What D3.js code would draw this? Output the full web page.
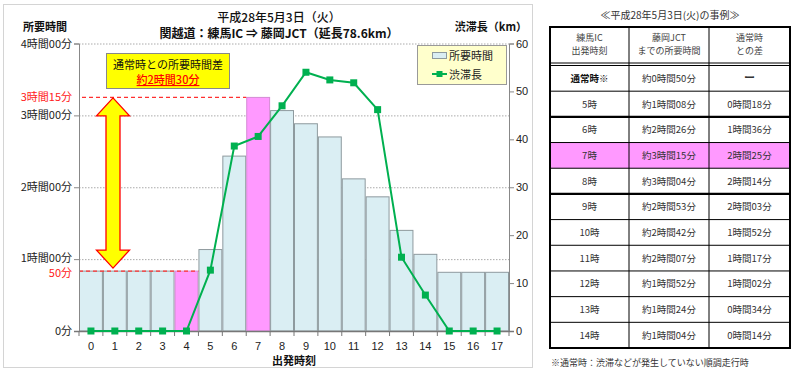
<!DOCTYPE html>
<html><head><meta charset="utf-8">
<script src="https://cdn.jsdelivr.net/npm/d3@7"></script>
<style>
html,body{margin:0;padding:0;background:#fff;}
svg{display:block;font-family:"Noto Sans CJK JP","Noto Sans",sans-serif;}
</style></head>
<body>
<svg id="c" width="799" height="374"></svg>
<script>
// ---- data ----
const hours = [0,1,2,3,4,5,6,7,8,9,10,11,12,13,14,15,16,17];
const durationMin = [50,50,50,50,50,68,146,195,184,173,162,127,112,84,64,49,49,49];
const congestionKm = [0,0,0,0,0,12.7,38.6,40.6,47.0,54.0,52.4,51.8,46.2,15.4,7.5,0,0,0];
const highlightHours = [4,7];
const leftTicks = [0,60,120,180,240];
const leftTickLabels = ["0分","1時間00分","2時間00分","3時間00分","4時間00分"];
const redMarks = [195,50];
const redMarkLabels = ["3時間15分","50分"];
const rightTicks = [0,10,20,30,40,50,60];

const tableTimes = ["通常時※","5時","6時","7時","8時","9時","10時","11時","12時","13時","14時"];
const tableDurations = ["約0時間50分","約1時間08分","約2時間26分","約3時間15分","約3時間04分","約2時間53分","約2時間42分","約2時間07分","約1時間52分","約1時間24分","約1時間04分"];
const tableDiffs = ["ー","0時間18分","1時間36分","2時間25分","2時間14分","2時間03分","1時間52分","1時間17分","1時間02分","0時間34分","0時間14分"];
const tableHeaders = [["練馬IC","出発時刻"],["藤岡JCT","までの所要時間"],["通常時","との差"]];
const tableHighlight = "7時";

(function(){
const svg = d3.select("#c");
const L = 79, R = 509, T = 43.5, B = 331;

svg.append("rect").attr("x",3.5).attr("y",4.5).attr("width",529).attr("height",363)
  .attr("fill","#fff").attr("stroke","#d4d4d4");

const x = d3.scaleBand().domain(hours).range([L,R]).padding(0);
const y = d3.scaleLinear().domain([0,240]).range([B,T]);
const y2 = d3.scaleLinear().domain([0,60]).range([B,T]);

// gridlines
svg.append("g").selectAll("line").data(leftTicks.filter(d=>d>0)).join("line")
  .attr("x1",L).attr("x2",R).attr("y1",d=>y(d)+0.5).attr("y2",d=>y(d)+0.5)
  .attr("stroke","#aaa").attr("stroke-dasharray","1.5,1.5");

// bars
svg.append("g").selectAll("rect").data(hours).join("rect")
  .attr("x",d=>x(d)+0.5).attr("y",(d,i)=>y(durationMin[i]))
  .attr("width",x.bandwidth()-1).attr("height",(d,i)=>B-y(durationMin[i]))
  .attr("fill",d=>highlightHours.includes(d)?"#FF99FF":"#DAEEF3")
  .attr("stroke",d=>highlightHours.includes(d)?"#D58BD5":"#8E9A9E").attr("stroke-width",1);

// red dashed lines
svg.append("line").attr("x1",82).attr("x2",x(7)).attr("y1",y(195)).attr("y2",y(195))
  .attr("stroke","#FF3030").attr("stroke-width",1.3).attr("stroke-dasharray","4,3");
svg.append("line").attr("x1",L).attr("x2",x(4)+x.bandwidth()).attr("y1",y(50)).attr("y2",y(50))
  .attr("stroke","#FF3030").attr("stroke-width",1.3).attr("stroke-dasharray","4,3");

// axes
const axL = d3.axisLeft(y).tickValues(leftTicks).tickSize(5).tickFormat("");
const gL = svg.append("g").attr("transform",`translate(${L},0)`).call(axL);
gL.select(".domain").attr("stroke","#888");
gL.selectAll(".tick line").attr("stroke","#888");
const axR = d3.axisRight(y2).tickValues(rightTicks).tickSize(5).tickFormat("");
const gR = svg.append("g").attr("transform",`translate(${R},0)`).call(axR);
gR.select(".domain").attr("stroke","#888");
gR.selectAll(".tick line").attr("stroke","#888");
// bottom axis
svg.append("line").attr("x1",L-5).attr("x2",R+5).attr("y1",B+0.5).attr("y2",B+0.5).attr("stroke","#777").attr("stroke-width",1.5);
svg.append("g").selectAll("line").data(hours.concat([18])).join("line")
  .attr("x1",d=>L+d*x.bandwidth()).attr("x2",d=>L+d*x.bandwidth())
  .attr("y1",B).attr("y2",B+5).attr("stroke","#777");

// tick labels
svg.append("g").selectAll("text").data(leftTicks).join("text")
  .attr("x",72).attr("y",d=>y(d)+(d===60?3:4)).attr("text-anchor","end")
  .attr("font-size",11).attr("fill","#222").text((d,i)=>leftTickLabels[i]);
svg.append("g").selectAll("text").data(redMarks).join("text")
  .attr("x",72).attr("y",d=>y(d)+(d===50?5.5:4)).attr("text-anchor","end")
  .attr("font-size",11).attr("fill","#FF2020").text((d,i)=>redMarkLabels[i]);
svg.append("g").selectAll("text").data(rightTicks).join("text")
  .attr("x",516).attr("y",d=>y2(d)+4).attr("text-anchor","start")
  .attr("font-family","Liberation Sans, Arial, sans-serif")
  .attr("font-size",11).attr("fill","#222").text(d=>d);
svg.append("g").selectAll("text").data(hours).join("text")
  .attr("x",d=>x(d)+x.bandwidth()/2).attr("y",349.5).attr("text-anchor","middle")
  .attr("font-family","Liberation Sans, Arial, sans-serif")
  .attr("font-size",11).attr("fill","#222").text(d=>d);

// titles
svg.append("text").attr("x",279).attr("y",22).attr("text-anchor","middle").attr("font-size",12).attr("fill","#111").attr("font-weight",500).text("平成28年5月3日（火）");
svg.append("text").attr("x",279).attr("y",38).attr("text-anchor","middle").attr("font-size",12).attr("font-weight","bold").attr("fill","#111").text("関越道：練馬IC ⇒ 藤岡JCT（延長78.6km）");
svg.append("text").attr("x",45).attr("y",31).attr("text-anchor","middle").attr("font-size",11).attr("font-weight","bold").attr("fill","#111").text("所要時間");
svg.append("text").attr("x",527).attr("y",31).attr("text-anchor","end").attr("font-size",11).attr("font-weight","bold").attr("fill","#111").text("渋滞長（km）");
svg.append("text").attr("x",294).attr("y",365).attr("text-anchor","middle").attr("font-size",11).attr("font-weight","bold").attr("fill","#111").text("出発時刻");

// congestion line
const line = d3.line().x((d,i)=>x(hours[i])+x.bandwidth()/2).y(d=>y2(d));
svg.append("path").datum(congestionKm).attr("d",line).attr("fill","none")
  .attr("stroke","#00B050").attr("stroke-width",2);
svg.append("g").selectAll("rect").data(congestionKm).join("rect")
  .attr("x",(d,i)=>x(hours[i])+x.bandwidth()/2-3.5).attr("y",d=>y2(d)-3.5)
  .attr("width",7).attr("height",7).attr("fill","#00B050");

// legend
const lg = svg.append("g");
lg.append("rect").attr("x",417.5).attr("y",45.5).attr("width",89).attr("height",39)
  .attr("fill","#FFFFCC").attr("stroke","#999");
lg.append("rect").attr("x",432.5).attr("y",52.5).attr("width",14).attr("height",6)
  .attr("fill","#DAEEF3").attr("stroke","#8E9A9E");
lg.append("text").attr("x",449).attr("y",59.5).attr("font-size",11).attr("fill","#222").text("所要時間");
lg.append("line").attr("x1",432).attr("x2",447).attr("y1",74).attr("y2",74).attr("stroke","#00B050").attr("stroke-width",2);
lg.append("rect").attr("x",436.5).attr("y",71).attr("width",6).attr("height",6).attr("fill","#00B050");
lg.append("text").attr("x",449).attr("y",79).attr("font-size",11).attr("fill","#222").text("渋滞長");

// annotation box
svg.append("rect").attr("x",106.5).attr("y",53.5).attr("width",123).attr("height",35)
  .attr("fill","#FFFF00").attr("stroke","#888");
svg.append("text").attr("x",168).attr("y",68.5).attr("text-anchor","middle").attr("font-size",11).attr("fill","#111").text("通常時との所要時間差");
svg.append("text").attr("x",168).attr("y",84).attr("text-anchor","middle").attr("font-size",11).attr("fill","#FF0000")
  .attr("text-decoration","underline").attr("font-weight",500).text("約2時間30分");

// double arrow
const ax = 113, yTop = y(195)+0.5, yBot = y(50)-3, hl = 18, hw = 16.5, sw = 7;
const ap = `M${ax},${yTop} L${ax+hw},${yTop+hl} L${ax+sw},${yTop+hl} L${ax+sw},${yBot-hl} L${ax+hw},${yBot-hl} L${ax},${yBot} L${ax-hw},${yBot-hl} L${ax-sw},${yBot-hl} L${ax-sw},${yTop+hl} L${ax-hw},${yTop+hl} Z`;
svg.append("path").attr("d",ap).attr("fill","#FFFF00").attr("stroke","#FF0000").attr("stroke-width",1.3);

// ---- table ----
const tx = [550,629,709,790];
const tTop = 27, hBot = 64, rTop = 65.5, rH = (348-65.5)/11;
const tg = svg.append("g").attr("font-size",9.5).attr("fill","#333");
svg.append("text").attr("x",670).attr("y",19).attr("text-anchor","middle").attr("font-size",10).attr("fill","#333").text("≪平成28年5月3日(火)の事例≫");
const hi = tableTimes.indexOf(tableHighlight);
tg.append("rect").attr("x",tx[0]).attr("y",rTop+hi*rH).attr("width",tx[3]-tx[0]).attr("height",rH).attr("fill","#FF99FF");
tableHeaders.forEach((h,j)=>{
  h.forEach((s,k)=>{
    tg.append("text").attr("x",(tx[j]+tx[j+1])/2).attr("y",41+k*12.5).attr("text-anchor","middle")
      .attr("font-size",9).attr("fill","#444").text(s);
  });
});
const cols = [tableTimes, tableDurations, tableDiffs];
cols.forEach((col,j)=>{
  tg.append("g").selectAll("text").data(col).join("text")
    .attr("x",(tx[j]+tx[j+1])/2).attr("y",(d,i)=>rTop+i*rH+rH/2+3.5)
    .attr("text-anchor","middle")
    .attr("font-weight",(d,i)=>(i===0&&j!==1)?"bold":"normal")
    .attr("font-size",(d,i)=>(i===0&&j===2)?11:9.5)
    .attr("fill",(d,i)=>(i===0&&j===0)?"#111":"#333")
    .text(d=>d);
});
const lines = tg.append("g").attr("stroke","#000");
for(let i=1;i<11;i++){
  const yy = rTop+i*rH;
  const thick = (i===2||i===5);
  lines.append("line").attr("x1",tx[0]).attr("x2",tx[3]).attr("y1",yy).attr("y2",yy).attr("stroke-width",thick?2.2:1);
}
lines.append("line").attr("x1",tx[0]).attr("x2",tx[3]).attr("y1",hBot-1).attr("y2",hBot-1).attr("stroke-width",1);
lines.append("line").attr("x1",tx[0]).attr("x2",tx[3]).attr("y1",hBot+1.5).attr("y2",hBot+1.5).attr("stroke-width",1);
[tx[1],tx[2]].forEach(xx=>{
  lines.append("line").attr("x1",xx).attr("x2",xx).attr("y1",tTop).attr("y2",348).attr("stroke-width",1);
});
lines.append("rect").attr("x",tx[0]).attr("y",tTop).attr("width",tx[3]-tx[0]).attr("height",348-tTop)
  .attr("fill","none").attr("stroke-width",2);
svg.append("text").attr("x",551).attr("y",366).attr("font-size",9).attr("fill","#333").text("※通常時：渋滞などが発生していない順調走行時");
})();
</script>
</body></html>
